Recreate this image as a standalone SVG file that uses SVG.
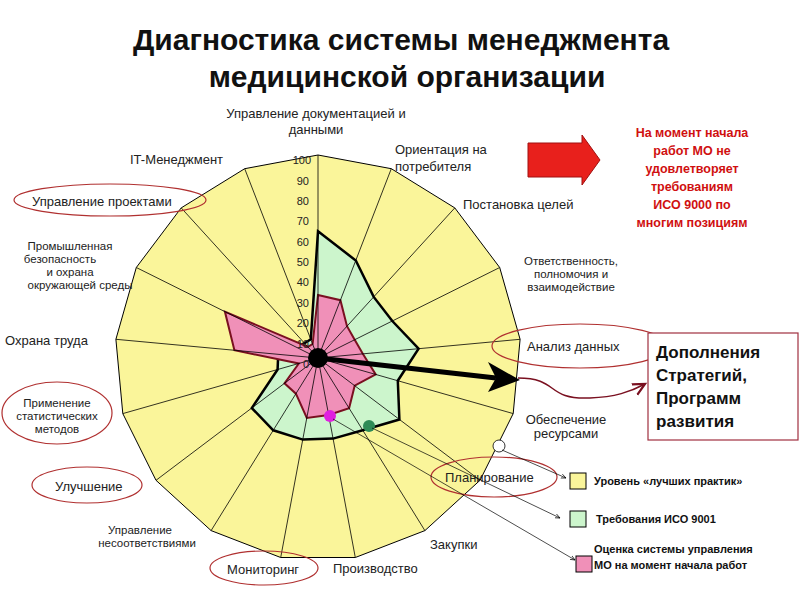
<svg xmlns="http://www.w3.org/2000/svg" width="800" height="600" viewBox="0 0 800 600">
<defs>
<style>
text{font-family:"Liberation Sans",Arial,sans-serif}
.lb{font-size:13px;fill:#222}
.ml{font-size:11.5px;fill:#222;text-anchor:middle}
.sc{font-size:11px;fill:#222;text-anchor:end}
.ax{stroke:#000;stroke-width:0.8}
.el{fill:none;stroke:#b03030;stroke-width:1.2}
.lg{font-size:11px;font-weight:bold;fill:#111}
.ptr{stroke:#000;stroke-width:0.7;fill:none;marker-end:url(#sm)}
</style>
<marker id="sm" markerWidth="8" markerHeight="8" refX="7" refY="4" orient="auto"><path d="M0,1 L7,4 L0,7" fill="none" stroke="#000"/></marker>
<marker id="rm" markerWidth="10" markerHeight="10" refX="8" refY="5" orient="auto"><path d="M0,1 L8,5 L0,9" fill="none" stroke="#7a1020" stroke-width="1.5"/></marker>
</defs>
<rect width="800" height="600" fill="#fff"/>
<g id="title" font-weight="bold" font-size="30" text-anchor="middle" fill="#111">
<text x="401" y="50">Диагностика системы менеджмента</text>
<text x="407" y="87">медицинской организации</text>
</g>
<g id="chart">
<polygon points="318,155 391.3,168.7 454.8,207.9 499.7,267.5 520.1,339.3 513.2,413.6 480,480.3 424.9,530.6 355.3,557.5 280.7,557.5 211.1,530.6 156,480.3 122.8,413.6 115.9,339.3 136.3,267.5 181.2,207.9 244.7,168.7" fill="#FAF59A" stroke="#000" stroke-width="1"/>
<polygon points="318,231.3 355.8,260.5 373.7,296.9 392.3,321 418.6,348.7 397.8,380.7 399.4,419.5 362.7,430.3 333.1,438.6 302.8,439.6 273.3,430.3 251.8,408 277.6,369.5 278.2,354.3 295.6,346.9 304.5,343.2 310.8,339.3" fill="#CCF5CC" stroke="#000" stroke-width="2.5"/>
<polygon points="318,295 340.4,300.2 347,326.2 354.7,339.7 362.8,353.8 375.7,374.4 354.7,385.7 349.1,408.2 328.7,415 306.8,418 295.9,393.7 284.5,383.3 298.8,363.5 234.4,350.2 224.9,311.6 307.9,346.9 312.6,344" fill="#F090B8" stroke="#7a1020" stroke-width="2"/>
<g class="ax">
<line x1="318" y1="358" x2="318" y2="155"/><line x1="318" y1="358" x2="391.3" y2="168.7"/><line x1="318" y1="358" x2="454.8" y2="207.9"/><line x1="318" y1="358" x2="499.7" y2="267.5"/><line x1="318" y1="358" x2="520.1" y2="339.3"/><line x1="318" y1="358" x2="513.2" y2="413.6"/><line x1="318" y1="358" x2="480" y2="480.3"/><line x1="318" y1="358" x2="424.9" y2="530.6"/><line x1="318" y1="358" x2="355.3" y2="557.5"/><line x1="318" y1="358" x2="280.7" y2="557.5"/><line x1="318" y1="358" x2="211.1" y2="530.6"/><line x1="318" y1="358" x2="156" y2="480.3"/><line x1="318" y1="358" x2="122.8" y2="413.6"/><line x1="318" y1="358" x2="115.9" y2="339.3"/><line x1="318" y1="358" x2="136.3" y2="267.5"/><line x1="318" y1="358" x2="181.2" y2="207.9"/><line x1="318" y1="358" x2="244.7" y2="168.7"/>
</g>
<g>
<text class="sc" x="311" y="164">100</text><text class="sc" x="309" y="185">90</text><text class="sc" x="309" y="205">80</text><text class="sc" x="309" y="225">70</text><text class="sc" x="309" y="246">60</text><text class="sc" x="309" y="266">50</text><text class="sc" x="309" y="286">40</text><text class="sc" x="309" y="307">30</text><text class="sc" x="309" y="327">20</text><text class="sc" x="309" y="348">10</text><text class="sc" x="309" y="368">0</text>
</g>
<circle cx="318" cy="358" r="10" fill="#000"/>
<circle cx="330" cy="416" r="6" fill="#e020e0"/>
<circle cx="369" cy="426" r="6" fill="#2e8b57"/>
<circle cx="499" cy="446" r="6" fill="#fff" stroke="#000" stroke-width="0.8"/>
</g>
<g id="labels">
<text class="lb" x="316" y="118" text-anchor="middle">Управление документацией и</text>
<text class="lb" x="316" y="134" text-anchor="middle">данными</text>
<text class="lb" x="395" y="154">Ориентация на</text>
<text class="lb" x="395" y="171">потребителя</text>
<text class="lb" x="463" y="209">Постановка целей</text>
<text class="ml" x="571" y="265">Ответственность,</text>
<text class="ml" x="571" y="278">полномочия и</text>
<text class="ml" x="571" y="291">взаимодействие</text>
<text class="lb" x="527" y="351">Анализ данных</text>
<text class="lb" x="566" y="424" text-anchor="middle">Обеспечение</text>
<text class="lb" x="566" y="438" text-anchor="middle">ресурсами</text>
<text class="lb" x="445" y="482">Планирование</text>
<text class="lb" x="430" y="549">Закупки</text>
<text class="lb" x="333" y="573">Производство</text>
<text class="lb" x="227" y="574">Мониторинг</text>
<text class="ml" x="140" y="534">Управление</text>
<text class="ml" x="147" y="547">несоответствиями</text>
<text class="lb" x="55" y="491">Улучшение</text>
<text class="ml" x="57" y="407">Применение</text>
<text class="ml" x="57" y="420">статистических</text>
<text class="ml" x="57" y="433">методов</text>
<text class="lb" x="5" y="345">Охрана труда</text>
<text class="ml" x="70" y="250">Промышленная</text>
<text class="ml" x="60" y="263">безопасность</text>
<text class="ml" x="70" y="276">и охрана</text>
<text class="ml" x="80" y="289">окружающей среды</text>
<text class="lb" x="32" y="206">Управление проектами</text>
<text class="lb" x="130" y="164">IT-Менеджмент</text>
</g>
<g id="ellipses">
<ellipse class="el" cx="110" cy="200" rx="96" ry="16"/>
<ellipse class="el" cx="580" cy="346" rx="88" ry="22"/>
<ellipse class="el" cx="57" cy="413" rx="55" ry="31"/>
<ellipse class="el" cx="87" cy="485" rx="55" ry="18"/>
<ellipse class="el" cx="494" cy="477" rx="63" ry="20"/>
<ellipse class="el" cx="264" cy="568" rx="54" ry="17"/>
</g>
<g id="connectors">
<line x1="318" y1="358" x2="496" y2="378" stroke="#000" stroke-width="5"/>
<polygon points="488,362 520,380 488,392 496,378" fill="#000"/>
<path d="M518,378 C560,378 545,400 590,398 C615,397 630,392 645,384" fill="none" stroke="#7a1020" stroke-width="1.5" marker-end="url(#rm)"/>
<line class="ptr" x1="502" y1="450" x2="566" y2="478"/>
<line class="ptr" x1="372" y1="428" x2="560" y2="518"/>
<line class="ptr" x1="333" y1="419" x2="575" y2="560"/>
<polygon points="528,143 582,143 582,135 600,160 582,185 582,177 528,177" fill="#e8201c" stroke="#a01010"/>
</g>
<g id="note" font-size="12.5" font-weight="bold" fill="#d01010" text-anchor="middle">
<text x="692" y="137">На момент начала</text>
<text x="692" y="155">работ МО не</text>
<text x="692" y="173">удовлетворяет</text>
<text x="692" y="191">требованиям</text>
<text x="692" y="209">ИСО 9000 по</text>
<text x="692" y="227">многим позициям</text>
</g>
<g id="box">
<rect x="648" y="333" width="150" height="107" fill="#fff" stroke="#a03040" stroke-width="1.2"/>
<text x="656" y="358" font-size="17" font-weight="bold" fill="#111">Дополнения</text>
<text x="656" y="381" font-size="17" font-weight="bold" fill="#111">Стратегий,</text>
<text x="656" y="404" font-size="17" font-weight="bold" fill="#111">Программ</text>
<text x="656" y="427" font-size="17" font-weight="bold" fill="#111">развития</text>
</g>
<g id="legend">
<rect x="570" y="473" width="16" height="16" fill="#FAF59A" stroke="#000"/>
<text class="lg" x="594" y="485">Уровень «лучших практик»</text>
<rect x="570" y="511" width="16" height="16" fill="#CCF5CC" stroke="#000"/>
<text class="lg" x="596" y="523">Требования ИСО 9001</text>
<rect x="576" y="556" width="16" height="16" fill="#F090B8" stroke="#000"/>
<text class="lg" x="594" y="553">Оценка системы управления</text>
<text class="lg" x="594" y="569">МО на момент начала работ</text>
</g>
</svg>
